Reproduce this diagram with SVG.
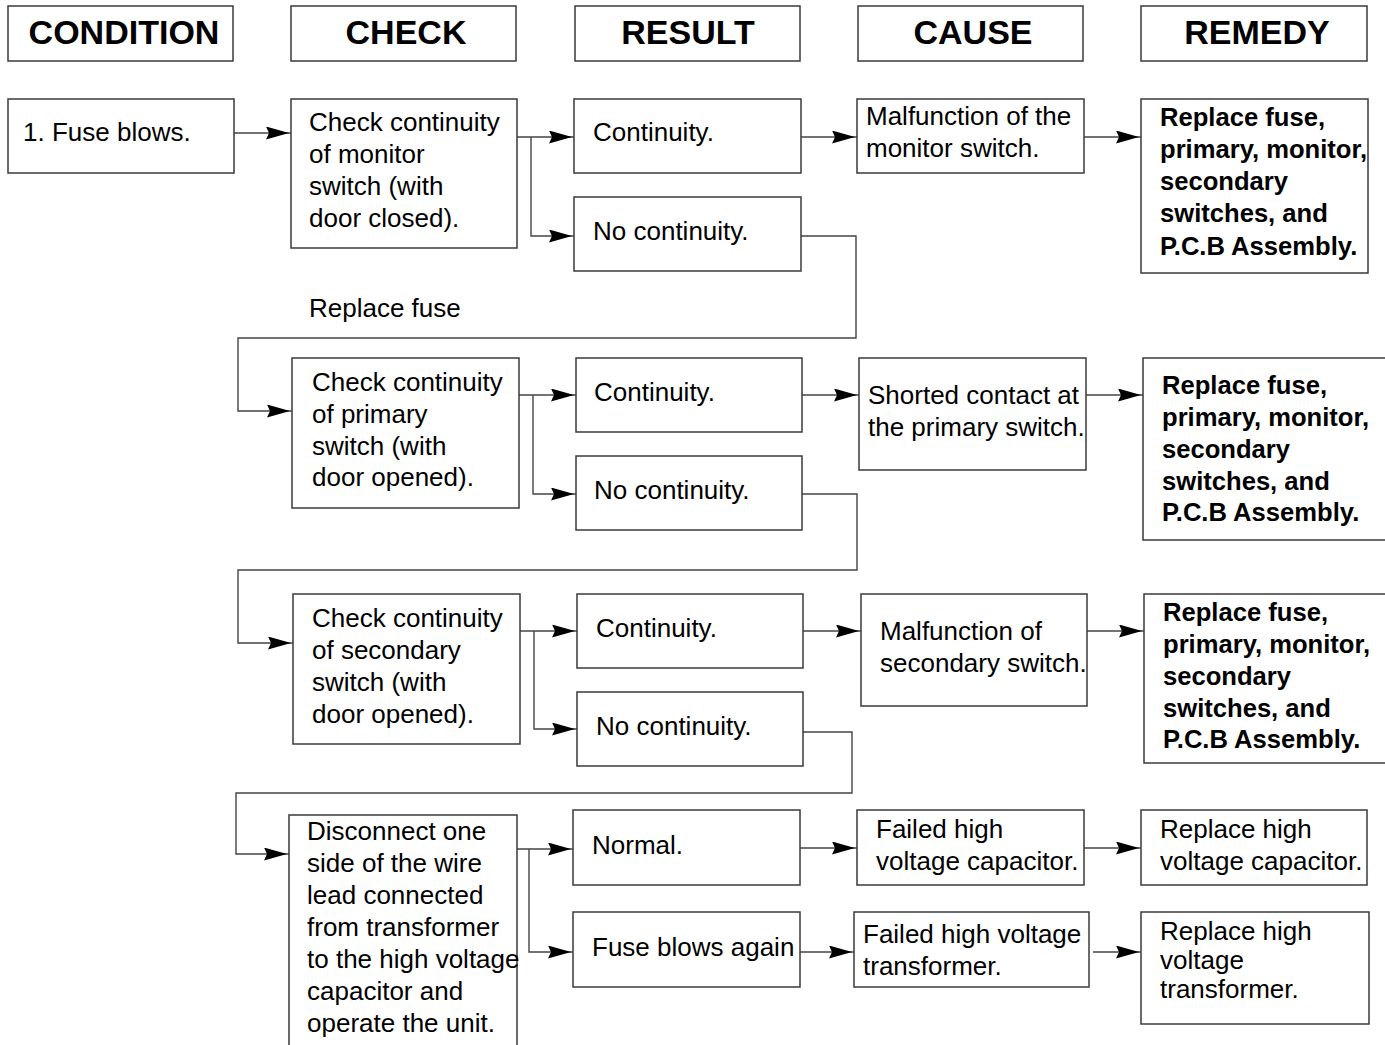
<svg xmlns="http://www.w3.org/2000/svg" width="1385" height="1045" viewBox="0 0 1385 1045">
<defs>
<style>
.box{fill:#fff;stroke:#3a3a3a;stroke-width:1.5}
.t{font-family:"Liberation Sans",Arial,Helvetica,sans-serif;font-size:26px;fill:#000}
.b{font-family:"Liberation Sans",Arial,Helvetica,sans-serif;font-size:25.6px;font-weight:bold;fill:#000}
.h{font-family:"Liberation Sans",Arial,Helvetica,sans-serif;font-size:34px;font-weight:bold;fill:#000;text-anchor:middle}
.c{fill:none;stroke:#444;stroke-width:1.4}
.a{marker-end:url(#arr)}
</style>
<marker id="arr" markerUnits="userSpaceOnUse" markerWidth="28" markerHeight="16" refX="25" refY="6.5" orient="auto">
<path d="M0,0 L23,6.5 L0,13 L3,6.5 Z" fill="#000"/>
</marker>
</defs>
<rect width="1385" height="1045" fill="#fff"/>

<g id="headers">
<g id="h-condition"><rect class="box" x="8" y="6" width="225" height="55"/><text class="h" x="124" y="44">CONDITION</text></g>
<g id="h-check"><rect class="box" x="291" y="6" width="225" height="55"/><text class="h" x="406" y="44">CHECK</text></g>
<g id="h-result"><rect class="box" x="575" y="6" width="225" height="55"/><text class="h" x="688" y="44">RESULT</text></g>
<g id="h-cause"><rect class="box" x="858" y="6" width="225" height="55"/><text class="h" x="973" y="44">CAUSE</text></g>
<g id="h-remedy"><rect class="box" x="1141" y="6" width="226" height="55"/><text class="h" x="1257" y="44">REMEDY</text></g>
</g>

<g id="connectors">
<!-- row 1 -->
<line class="c a" x1="234" y1="133" x2="291" y2="133"/>
<polyline class="c a" points="517,137 531,137 574,137"/>
<polyline class="c a" points="531,137 531,236 574,236"/>
<line class="c a" x1="801" y1="137" x2="857" y2="137"/>
<line class="c a" x1="1084" y1="137" x2="1141" y2="137"/>
<polyline class="c a" points="801,236 856,236 856,338 238,338 238,411 292,411"/>
<!-- row 2 -->
<polyline class="c a" points="519,395 533,395 576,395"/>
<polyline class="c a" points="533,395 533,494 576,494"/>
<line class="c a" x1="802" y1="395" x2="859" y2="395"/>
<line class="c a" x1="1086" y1="395" x2="1143" y2="395"/>
<polyline class="c a" points="802,494 857,494 857,570 238,570 238,643 293,643"/>
<!-- row 3 -->
<polyline class="c a" points="520,631 534,631 577,631"/>
<polyline class="c a" points="534,631 534,729 577,729"/>
<line class="c a" x1="803" y1="631" x2="861" y2="631"/>
<line class="c a" x1="1087" y1="631" x2="1144" y2="631"/>
<polyline class="c a" points="803,732 852,732 852,793 236,793 236,854 289,854"/>
<!-- row 4 -->
<polyline class="c a" points="517,849 529,849 573,849"/>
<polyline class="c a" points="529,849 529,952 573,952"/>
<line class="c a" x1="800" y1="848" x2="857" y2="848"/>
<line class="c a" x1="1084" y1="848" x2="1141" y2="848"/>
<line class="c a" x1="800" y1="952" x2="854" y2="952"/>
<line class="c a" x1="1093" y1="952" x2="1141" y2="952"/>
</g>

<g id="n-fuse-blows"><rect class="box" x="8" y="99" width="226" height="74"/><text class="t" x="23" y="141">1. Fuse blows.</text></g>

<g id="n-check-monitor"><rect class="box" x="291" y="99" width="226" height="149"/>
<text class="t" x="309" y="131">Check continuity</text><text class="t" x="309" y="163">of monitor</text><text class="t" x="309" y="195">switch (with</text><text class="t" x="309" y="227">door closed).</text></g>
<g id="n-r1-cont"><rect class="box" x="574" y="99" width="227" height="74"/><text class="t" x="593" y="141">Continuity.</text></g>
<g id="n-r1-nocont"><rect class="box" x="574" y="197" width="227" height="74"/><text class="t" x="593" y="240">No continuity.</text></g>
<g id="n-cause1"><rect class="box" x="857" y="99" width="227" height="74"/><text class="t" x="866" y="125">Malfunction of the</text><text class="t" x="866" y="157">monitor switch.</text></g>
<g id="n-remedy1"><rect class="box" x="1141" y="99" width="227" height="174"/>
<text class="b" x="1160" y="126">Replace fuse,</text><text class="b" x="1160" y="158">primary, monitor,</text><text class="b" x="1160" y="190">secondary</text><text class="b" x="1160" y="222">switches, and</text><text class="b" x="1160" y="255">P.C.B Assembly.</text></g>

<g id="n-replace-fuse"><text class="t" x="309" y="317">Replace fuse</text></g>

<g id="n-check-primary"><rect class="box" x="292" y="358" width="227" height="150"/>
<text class="t" x="312" y="391">Check continuity</text><text class="t" x="312" y="423">of primary</text><text class="t" x="312" y="455">switch (with</text><text class="t" x="312" y="486">door opened).</text></g>
<g id="n-r2-cont"><rect class="box" x="576" y="358" width="226" height="74"/><text class="t" x="594" y="401">Continuity.</text></g>
<g id="n-r2-nocont"><rect class="box" x="576" y="456" width="226" height="74"/><text class="t" x="594" y="499">No continuity.</text></g>
<g id="n-cause2"><rect class="box" x="859" y="358" width="227" height="112"/><text class="t" x="868" y="404">Shorted contact at</text><text class="t" x="868" y="436">the primary switch.</text></g>
<g id="n-remedy2"><rect class="box" x="1143" y="358" width="250" height="182"/>
<text class="b" x="1162" y="394">Replace fuse,</text><text class="b" x="1162" y="426">primary, monitor,</text><text class="b" x="1162" y="458">secondary</text><text class="b" x="1162" y="490">switches, and</text><text class="b" x="1162" y="521">P.C.B Assembly.</text></g>

<g id="n-check-secondary"><rect class="box" x="293" y="594" width="227" height="150"/>
<text class="t" x="312" y="627">Check continuity</text><text class="t" x="312" y="659">of secondary</text><text class="t" x="312" y="691">switch (with</text><text class="t" x="312" y="723">door opened).</text></g>
<g id="n-r3-cont"><rect class="box" x="577" y="594" width="226" height="74"/><text class="t" x="596" y="637">Continuity.</text></g>
<g id="n-r3-nocont"><rect class="box" x="577" y="692" width="226" height="74"/><text class="t" x="596" y="735">No continuity.</text></g>
<g id="n-cause3"><rect class="box" x="861" y="594" width="226" height="112"/><text class="t" x="880" y="640">Malfunction of</text><text class="t" x="880" y="672">secondary switch.</text></g>
<g id="n-remedy3"><rect class="box" x="1144" y="594" width="250" height="169"/>
<text class="b" x="1163" y="621">Replace fuse,</text><text class="b" x="1163" y="653">primary, monitor,</text><text class="b" x="1163" y="685">secondary</text><text class="b" x="1163" y="717">switches, and</text><text class="b" x="1163" y="748">P.C.B Assembly.</text></g>

<g id="n-check-hv"><path class="box" d="M289,1047 L289,815 L517,815 L517,1047"/>
<text class="t" x="307" y="840">Disconnect one</text><text class="t" x="307" y="872">side of the wire</text><text class="t" x="307" y="904">lead connected</text><text class="t" x="307" y="936">from transformer</text><text class="t" x="307" y="968">to the high voltage</text><text class="t" x="307" y="1000">capacitor and</text><text class="t" x="307" y="1032">operate the unit.</text></g>
<g id="n-r4-normal"><rect class="box" x="573" y="810" width="227" height="75"/><text class="t" x="592" y="854">Normal.</text></g>
<g id="n-r4-blows"><rect class="box" x="573" y="912" width="227" height="75"/><text class="t" x="592" y="956">Fuse blows again</text></g>
<g id="n-cause4a"><rect class="box" x="857" y="810" width="227" height="75"/><text class="t" x="876" y="838">Failed high</text><text class="t" x="876" y="870">voltage capacitor.</text></g>
<g id="n-remedy4a"><rect class="box" x="1141" y="810" width="226" height="75"/><text class="t" x="1160" y="838">Replace high</text><text class="t" x="1160" y="870">voltage capacitor.</text></g>
<g id="n-cause4b"><rect class="box" x="854" y="912" width="235" height="75"/><text class="t" x="863" y="943">Failed high voltage</text><text class="t" x="863" y="975">transformer.</text></g>
<g id="n-remedy4b"><rect class="box" x="1141" y="912" width="228" height="112"/><text class="t" x="1160" y="940">Replace high</text><text class="t" x="1160" y="969">voltage</text><text class="t" x="1160" y="998">transformer.</text></g>
</svg>
